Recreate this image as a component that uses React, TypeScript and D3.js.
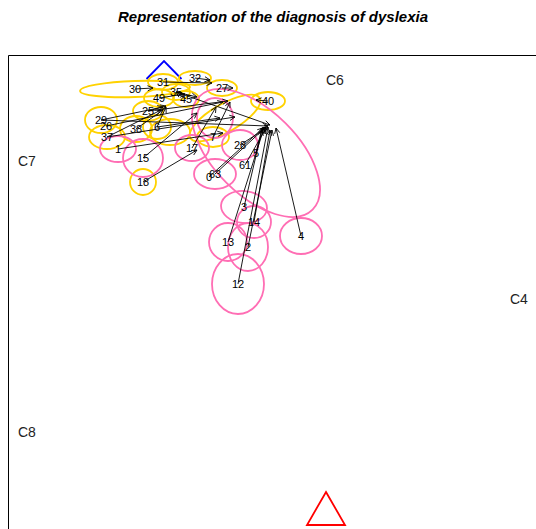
import React from 'react';
import { scaleLinear } from 'd3';

// positions in chart units (4 px per unit)
// [label, x, y, rx, ry, angle]
const yellowPoints: [string, number, number, number, number, number][] = [
  ['30', 31.75, 110, 13.75, 2, -2],
  ['31', 38.75, 111.75, 3.75, 2, 0],
  ['32', 46.75, 112.75, 4, 1.75, 0],
  ['27', 53.5, 110.25, 3.75, 2, 0],
  ['49', 37.75, 107.75, 3.75, 2.25, 0],
  ['45', 44.5, 107.5, 3.25, 2, 0],
  ['35', 42, 109.25, 3.5, 2, 0],
  ['40', 65, 107, 4.25, 2.25, 0],
  ['25', 35, 104.5, 3.75, 2.5, 0],
  ['29', 23.25, 102.25, 4, 3.25, 0],
  ['37', 24.75, 98, 4.5, 3, 0],
  ['38', 32, 100, 4, 3.25, 0],
  ['6', 37.25, 100.5, 3.5, 3, 0],
  ['18', 33.75, 86.75, 3.25, 3.25, 0],
  ['7', 51.25, 98, 4, 2.5, 0],
  ['', 40.5, 99.25, 5, 3.25, 0],
  ['', 54.25, 102.75, 10, 3.5, -30],
];

const pinkPoints: [string, number, number, number, number, number][] = [
  ['1', 27.5, 95, 4.5, 3.25, 0],
  ['15', 33.75, 92.75, 5, 4.75, 0],
  ['17', 46, 95.25, 4.25, 3.25, 0],
  ['', 51.75, 102.75, 4.5, 5, 0],
  ['28', 58, 96, 4.5, 3.75, 0],
  ['5', 62, 94, 20, 10.5, 45],
  ['63', 51.75, 88.75, 5.25, 3.75, 0],
  ['3', 59, 80.5, 5.75, 4, 5],
  ['14', 61.5, 76.75, 4.25, 4, 0],
  ['13', 55, 71.75, 4.75, 4.75, 0],
  ['2', 60, 70.5, 5, 6, 0],
  ['4', 73.25, 73.25, 5.25, 4.5, 0],
  ['12', 57.5, 61.25, 6.5, 7.5, 0],
];

// extra labelled points without ellipse
const plainPoints: [string, number, number][] = [
  ['26', 24.5, 100.75],
  ['61', 59.25, 91],
  ['0', 50.25, 88],
];

// [from label, target x, target y]
const arrows: [string, number, number][] = [
  ['30', 36.25, 110.25], ['31', 51, 111.5], ['32', 50.5, 112.25], ['27', 56.25, 110.25],
  ['49', 44.25, 108.75], ['45', 42, 109.25], ['35', 47.25, 108], ['35', 65.5, 101],
  ['40', 62, 107.25], ['25', 39.5, 105.75], ['25', 55, 107], ['29', 38.75, 105.5],
  ['29', 65, 100.75], ['26', 53.75, 106.75], ['37', 38.25, 104.75], ['37', 56.75, 103],
  ['38', 38.75, 104.75], ['6', 39.5, 105.5], ['6', 53, 102.75], ['18', 47.25, 94.75],
  ['7', 55.5, 106.75], ['1', 53.75, 99], ['15', 47.25, 104], ['17', 52, 105.5],
  ['28', 65, 100.5], ['5', 63.5, 100.25], ['61', 64.5, 100.25], ['63', 64.5, 100.5],
  ['0', 63.75, 100.25], ['3', 63.5, 99.75], ['14', 65.5, 99.75], ['13', 64, 100.25],
  ['2', 66, 99.75], ['4', 67, 100.25], ['12', 65, 100.5],
];

const classLabels: [string, number, number][] = [
  ['C6', 79.5, 111], ['C7', 2.5, 90.75], ['C4', 125.5, 56.25], ['C8', 2.5, 23],
];

const diamond = { x: 39, y: 112.5, w: 4.375, h: 4.5 };
const triangle = { x: 79.5, top: 9.25, base: 1, w: 4.75 };

const W = 536, H = 529;
const font = 'Liberation Sans, Arial, Helvetica, sans-serif';

export default function App() {
  const x = scaleLinear().domain([0, 132]).range([8, 536]);
  const y = scaleLinear().domain([0, 118.5]).range([529, 55]);

  const pos: Record<string, [number, number]> = {};
  [...yellowPoints, ...pinkPoints, ...plainPoints].forEach(p => {
    if (p[0] !== '') pos[p[0]] = [x(p[1]), y(p[2])];
  });

  const ellipse = (p: [string, number, number, number, number, number], color: string, i: number) => {
    const cx = x(p[1]), cy = y(p[2]);
    return (
      <ellipse key={color + i} cx={cx} cy={cy}
        rx={x(p[3]) - x(0)} ry={y(0) - y(p[4])}
        transform={`rotate(${p[5]} ${cx} ${cy})`}
        fill="none" stroke={color} strokeWidth={1.8} />
    );
  };

  const arrowPath = (a: [string, number, number]) => {
    const [x0, y0] = pos[a[0]];
    const x1 = x(a[1]), y1 = y(a[2]);
    const ang = Math.atan2(y1 - y0, x1 - x0);
    const L = 6, spread = Math.PI / 7;
    const h1 = [x1 - L * Math.cos(ang - spread), y1 - L * Math.sin(ang - spread)];
    const h2 = [x1 - L * Math.cos(ang + spread), y1 - L * Math.sin(ang + spread)];
    return `M${x0},${y0}L${x1},${y1}M${h1[0]},${h1[1]}L${x1},${y1}L${h2[0]},${h2[1]}`;
  };

  return (
    <svg width={W} height={H} style={{ position: 'absolute', left: 0, top: 0, background: '#fff' }}>
      <text x={273} y={22} textAnchor="middle" fontFamily={font} fontSize={15}
        fontWeight="bold" fontStyle="italic">Representation of the diagnosis of dyslexia</text>
      <path d={`M${W + 2},${55.5}H8.5V${H + 2}`} fill="none" stroke="#000" strokeWidth={1} />

      <path d={`M${x(diamond.x - diamond.w)},${y(diamond.y)}L${x(diamond.x)},${y(diamond.y + diamond.h)}L${x(diamond.x + diamond.w)},${y(diamond.y)}`}
        fill="none" stroke="#0000ff" strokeWidth={1.8} />
      <path d={`M${x(triangle.x)},${y(triangle.top)}L${x(triangle.x + triangle.w)},${y(triangle.base)}L${x(triangle.x - triangle.w)},${y(triangle.base)}Z`}
        fill="none" stroke="#ff0000" strokeWidth={1.8} />

      {classLabels.map(c => (
        <text key={c[0]} x={x(c[1])} y={y(c[2])} fontFamily={font} fontSize={14} fill="#222">{c[0]}</text>
      ))}

      {yellowPoints.map((p, i) => ellipse(p, '#ffd200', i))}
      {pinkPoints.map((p, i) => ellipse(p, '#ff6eb4', i))}

      {arrows.map((a, i) => (
        <path key={'a' + i} d={arrowPath(a)} fill="none" stroke="#000" strokeWidth={0.9} />
      ))}

      {Object.entries(pos).map(([k, v]) => (
        <text key={'t' + k} x={v[0]} y={v[1] + 4} textAnchor="middle" fontFamily={font} fontSize={11} fill="#000">{k}</text>
      ))}
    </svg>
  );
}
